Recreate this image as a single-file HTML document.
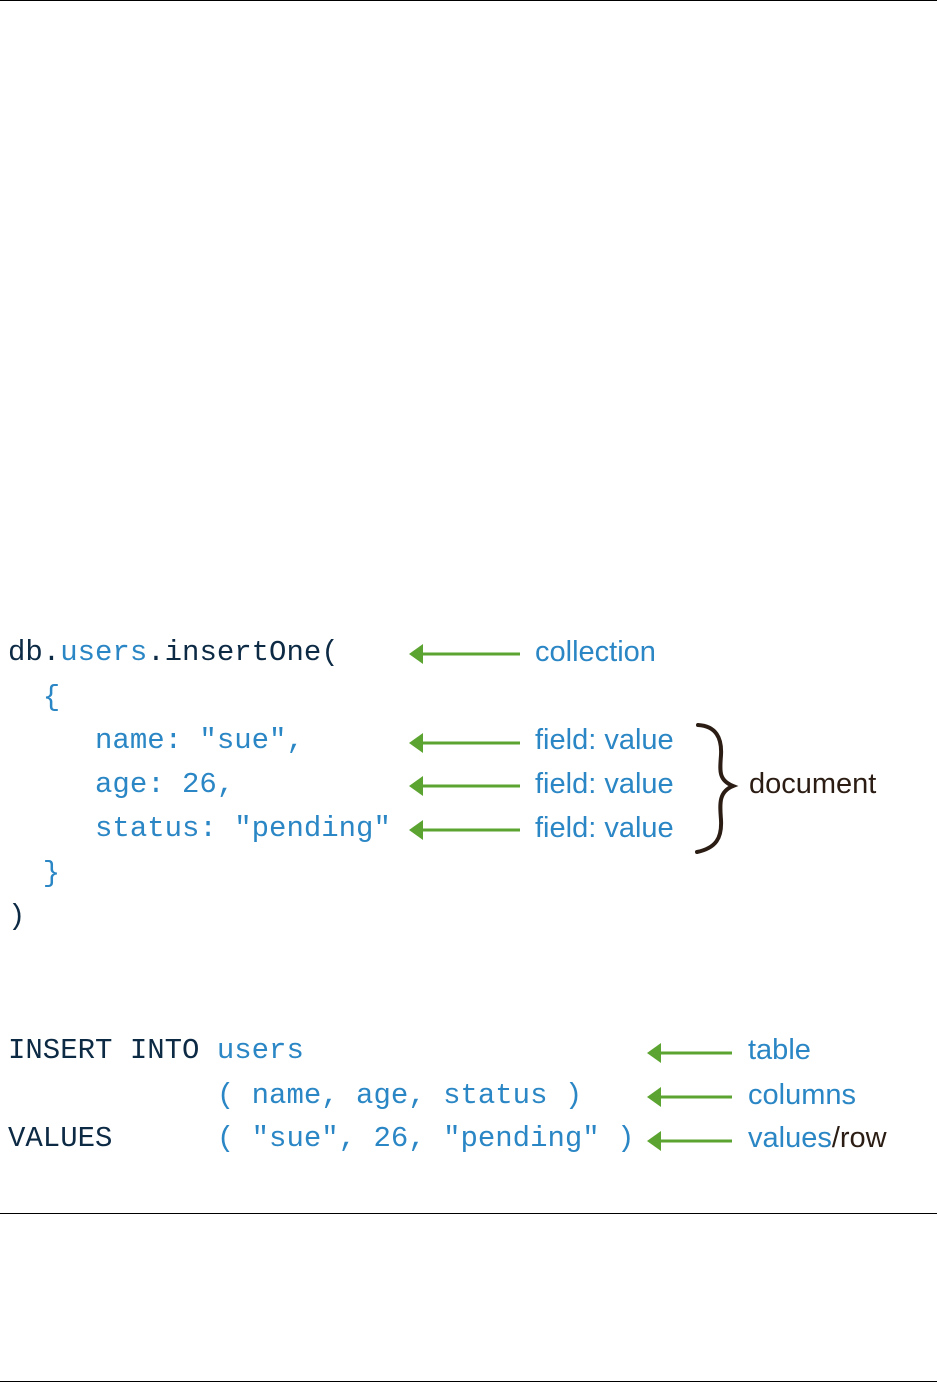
<!DOCTYPE html>
<html><head><meta charset="utf-8"><style>
body{margin:0;width:937px;height:1382px;position:relative;background:#fff;overflow:hidden}
.m{position:absolute;font-family:"Liberation Mono",monospace;font-size:29px;line-height:1;white-space:pre;color:#2a86c4}
.d{color:#0d2a45}
.l{position:absolute;font-family:"Liberation Sans",sans-serif;font-size:29px;line-height:1;color:#2a86c4;white-space:pre}
.hr{position:absolute;left:0;width:937px;height:1px;background:#000}
</style></head><body>
<div class="hr" style="top:0"></div>
<div class="hr" style="top:1213px"></div>
<div class="hr" style="top:1381px"></div>

<div class="m" style="left:8px;top:638px"><span class="d">db.</span>users<span class="d">.insertOne(</span></div>
<div class="m" style="left:8px;top:683px">  {</div>
<div class="m" style="left:8px;top:726px">     name: "sue",</div>
<div class="m" style="left:8px;top:770px">     age: 26,</div>
<div class="m" style="left:8px;top:814px">     status: "pending"</div>
<div class="m" style="left:8px;top:859px">  }</div>
<div class="m d" style="left:8px;top:902px">)</div>

<div class="m d" style="left:8px;top:1036px">INSERT INTO <span style="color:#2a86c4">users</span></div>
<div class="m" style="left:8px;top:1081px">            ( name, age, status )</div>
<div class="m" style="left:8px;top:1124px"><span class="d">VALUES</span>      ( "sue", 26, "pending" )</div>

<div class="l" style="left:535px;top:638px">collection</div>
<div class="l" style="left:535px;top:726px">field: value</div>
<div class="l" style="left:535px;top:770px">field: value</div>
<div class="l" style="left:535px;top:814px">field: value</div>
<div class="l" style="left:749px;top:770px;color:#2b1d14">document</div>
<div class="l" style="left:748px;top:1036px">table</div>
<div class="l" style="left:748px;top:1081px">columns</div>
<div class="l" style="left:748px;top:1124px">values<span style="color:#2b1d14">/row</span></div>

<svg width="937" height="1382" style="position:absolute;left:0;top:0">
<g fill="#5ba431" stroke="#5ba431">
<line x1="420" y1="654" x2="520" y2="654" stroke-width="3"/><polygon points="409,654 423,644 423,664" stroke="none"/>
<line x1="420" y1="743" x2="520" y2="743" stroke-width="3"/><polygon points="409,743 423,733 423,753" stroke="none"/>
<line x1="420" y1="786" x2="520" y2="786" stroke-width="3"/><polygon points="409,786 423,776 423,796" stroke="none"/>
<line x1="420" y1="830" x2="520" y2="830" stroke-width="3"/><polygon points="409,830 423,820 423,840" stroke="none"/>
<line x1="658" y1="1053" x2="732" y2="1053" stroke-width="3"/><polygon points="647,1053 661,1043 661,1063" stroke="none"/>
<line x1="658" y1="1097" x2="732" y2="1097" stroke-width="3"/><polygon points="647,1097 661,1087 661,1107" stroke="none"/>
<line x1="658" y1="1141" x2="732" y2="1141" stroke-width="3"/><polygon points="647,1141 661,1131 661,1151" stroke="none"/>
</g>
<path d="M698,725 C716,726 722,738 721,755 C720,770 718,780 733,786 C718,792 720,805 721,820 C722,838 716,848 697,852" fill="none" stroke="#2b1d14" stroke-width="4" stroke-linecap="round"/>
</svg>
</body></html>
